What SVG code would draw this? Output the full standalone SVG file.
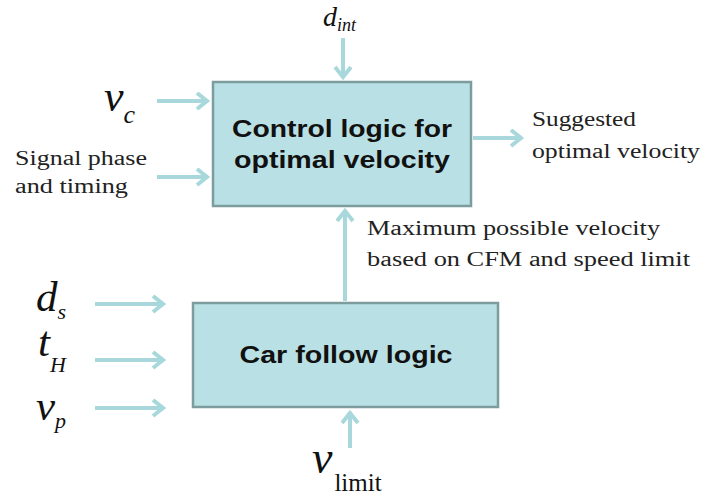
<svg xmlns="http://www.w3.org/2000/svg" width="705" height="500" viewBox="0 0 705 500">
<style>
.box{fill:#b9e0e4;stroke:#7d9c9e;stroke-width:2.5}
.bt{font-family:"Liberation Sans",Arial,sans-serif;font-weight:bold;fill:#111}
.lbl{font-family:"Liberation Serif","DejaVu Serif",serif;fill:#222;font-size:20px}
.sym{font-family:"Liberation Serif","DejaVu Serif",serif;font-style:italic;fill:#111}
.ar{stroke:#a8d8dc;stroke-width:4;fill:none}
</style>
<defs>
<marker id="ah" markerUnits="userSpaceOnUse" markerWidth="16" markerHeight="20" refX="12" refY="9" orient="auto">
<path d="M2,1 L12,9 L2,17" fill="none" stroke="#a8d8dc" stroke-width="4" stroke-linejoin="miter"/>
</marker>
</defs>
<rect width="705" height="500" fill="#fff"/>
<g id="connectors">
<line class="ar" x1="343" y1="38" x2="343" y2="77" marker-end="url(#ah)"/>
<line class="ar" x1="157" y1="101" x2="207" y2="101" marker-end="url(#ah)"/>
<line class="ar" x1="157" y1="177" x2="207" y2="177" marker-end="url(#ah)"/>
<line class="ar" x1="473" y1="138" x2="521" y2="138" marker-end="url(#ah)"/>
<line class="ar" x1="345" y1="301" x2="345" y2="211" marker-end="url(#ah)"/>
<line class="ar" x1="95" y1="304" x2="163" y2="304" marker-end="url(#ah)"/>
<line class="ar" x1="95" y1="360" x2="163" y2="360" marker-end="url(#ah)"/>
<line class="ar" x1="95" y1="408" x2="163" y2="408" marker-end="url(#ah)"/>
<line class="ar" x1="350" y1="448" x2="350" y2="413" marker-end="url(#ah)"/>
</g>
<g id="control">
<rect class="box" x="213" y="82" width="258" height="124"/>
<text class="bt" x="342" y="137" font-size="23" text-anchor="middle" textLength="220" lengthAdjust="spacingAndGlyphs">Control logic for</text>
<text class="bt" x="342" y="168" font-size="23" text-anchor="middle" textLength="216" lengthAdjust="spacingAndGlyphs">optimal velocity</text>
</g>
<g id="carfollow">
<rect class="box" x="193" y="303" width="305" height="104"/>
<text class="bt" x="346" y="363" font-size="24" text-anchor="middle" textLength="213" lengthAdjust="spacingAndGlyphs">Car follow logic</text>
</g>
<g id="labels">
<text class="sym" x="323" y="26" font-size="28">d<tspan font-size="18" dy="5">int</tspan></text>
<text class="sym" x="104" y="111" font-size="44">v<tspan font-size="26" dy="12">c</tspan></text>
<text class="lbl" x="15" y="165" textLength="132" lengthAdjust="spacingAndGlyphs">Signal phase</text>
<text class="lbl" x="15" y="193" textLength="113" lengthAdjust="spacingAndGlyphs">and timing</text>
<text class="lbl" x="532" y="126" textLength="104" lengthAdjust="spacingAndGlyphs">Suggested</text>
<text class="lbl" x="532" y="158" textLength="168" lengthAdjust="spacingAndGlyphs">optimal velocity</text>
<text class="lbl" x="367" y="235" textLength="293" lengthAdjust="spacingAndGlyphs">Maximum possible velocity</text>
<text class="lbl" x="367" y="266" textLength="323" lengthAdjust="spacingAndGlyphs">based on CFM  and speed limit</text>
<text class="sym" x="36" y="311" font-size="43">d<tspan font-size="22" dy="8">s</tspan></text>
<text class="sym" x="38" y="356" font-size="43">t<tspan font-size="22" dy="16">H</tspan></text>
<text class="sym" x="36" y="420" font-size="43">v<tspan font-size="22" dy="8">p</tspan></text>
<text class="sym" x="312" y="473" font-size="46">v<tspan font-style="normal" font-size="25" dx="2" dy="18">limit</tspan></text>
</g>
</svg>
